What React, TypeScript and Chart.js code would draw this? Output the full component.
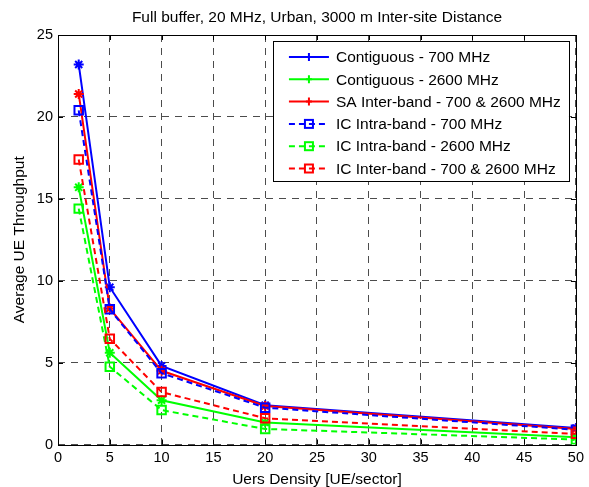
import React, { useEffect, useRef } from "react";
import { Chart, registerables } from "chart.js";

Chart.register(...registerables);

const TITLE = "Full buffer, 20 MHz, Urban, 3000 m Inter-site Distance";
const X_TITLE = "Uers Density [UE/sector]";
const Y_TITLE = "Average UE Throughput";

const users = [2, 5, 10, 20, 50];
const contiguous700 = [23.2, 9.6, 4.8, 2.4, 1.0];
const contiguous2600 = [15.7, 5.6, 2.7, 1.35, 0.45];
const saInter = [21.4, 8.3, 4.5, 2.35, 0.95];
const icIntra700 = [20.4, 8.25, 4.35, 2.25, 0.9];
const icIntra2600 = [14.4, 4.75, 2.1, 0.95, 0.3];
const icInter = [17.4, 6.45, 3.2, 1.6, 0.65];

const xTicks = [0, 5, 10, 15, 20, 25, 30, 35, 40, 45, 50];
const yTicks = [0, 5, 10, 15, 20, 25];

const seriesNames = [
  "Contiguous - 700 MHz",
  "Contiguous - 2600 MHz",
  "SA Inter-band - 700 & 2600 MHz",
  "IC Intra-band - 700 MHz",
  "IC Intra-band - 2600 MHz",
  "IC Inter-band - 700 & 2600 MHz",
];
const seriesValues = [contiguous700, contiguous2600, saInter, icIntra700, icIntra2600, icInter];
const seriesColors = ["#0000ff", "#00ff00", "#ff0000", "#0000ff", "#00ff00", "#ff0000"];
const seriesDashed = [false, false, false, true, true, true];

const FONT = "Arial, 'Liberation Sans', Helvetica, sans-serif";

export default function App() {
  const ref = useRef<HTMLCanvasElement | null>(null);

  useEffect(() => {
    const canvas = ref.current;
    if (!canvas) return;

    const datasets = seriesNames.map((name, i) => ({
      label: name,
      data: users.map((u, j) => ({ x: u, y: seriesValues[i][j] })),
      borderColor: seriesColors[i],
      backgroundColor: seriesColors[i],
      borderWidth: 2,
      borderDash: seriesDashed[i] ? [6, 4] : [],
      pointStyle: seriesDashed[i] ? "rect" : "star",
      pointRadius: seriesDashed[i] ? 6 : 5,
      pointBorderWidth: 2,
      pointBackgroundColor: seriesDashed[i] ? "rgba(0,0,0,0)" : seriesColors[i],
      pointBorderColor: seriesColors[i],
      fill: false,
      tension: 0,
      order: 10 - i,
    }));

    const frame = {
      id: "matlabFrame",
      afterDraw(chart: any) {
        const { ctx, chartArea } = chart;
        const xs = chart.scales.x;
        const ys = chart.scales.y;
        const { left, right, top, bottom } = chartArea;
        ctx.save();
        ctx.strokeStyle = "#000";
        ctx.lineWidth = 1;
        ctx.setLineDash([]);
        ctx.strokeRect(Math.round(left) + 0.5, Math.round(top) + 0.5, Math.round(right - left), Math.round(bottom - top));
        const tl = 5;
        ctx.beginPath();
        xTicks.forEach((v) => {
          const px = Math.round(xs.getPixelForValue(v)) + 0.5;
          ctx.moveTo(px, bottom);
          ctx.lineTo(px, bottom - tl);
          ctx.moveTo(px, top);
          ctx.lineTo(px, top + tl);
        });
        yTicks.forEach((v) => {
          const py = Math.round(ys.getPixelForValue(v)) + 0.5;
          ctx.moveTo(left, py);
          ctx.lineTo(left + tl, py);
          ctx.moveTo(right, py);
          ctx.lineTo(right - tl, py);
        });
        ctx.stroke();

        ctx.fillStyle = "#000";
        ctx.font = `15.5px ${FONT}`;
        ctx.textAlign = "center";
        ctx.textBaseline = "alphabetic";
        ctx.fillText(TITLE, (left + right) / 2, 22);
        ctx.fillText(X_TITLE, (left + right) / 2, 484);
        ctx.save();
        ctx.translate(24, (top + bottom) / 2);
        ctx.rotate(-Math.PI / 2);
        ctx.fillText(Y_TITLE, 0, 0);
        ctx.restore();

        const lw = 296;
        const lh = 140;
        const lx = right - 7 - lw;
        const ly = top + 6;
        ctx.fillStyle = "#fff";
        ctx.fillRect(lx, ly, lw, lh);
        ctx.strokeStyle = "#000";
        ctx.lineWidth = 1;
        ctx.strokeRect(Math.round(lx) + 0.5, Math.round(ly) + 0.5, lw, lh);
        seriesNames.forEach((name, i) => {
          const cy = ly + 16 + i * 22.3;
          const c = seriesColors[i];
          ctx.strokeStyle = c;
          ctx.lineWidth = 2;
          ctx.setLineDash(seriesDashed[i] ? [6, 4] : []);
          ctx.beginPath();
          ctx.moveTo(lx + 16, cy);
          ctx.lineTo(lx + 56, cy);
          ctx.stroke();
          ctx.setLineDash([]);
          if (seriesDashed[i]) {
            ctx.strokeRect(lx + 36 - 4, cy - 4, 8, 8);
          } else {
            ctx.beginPath();
            ctx.moveTo(lx + 36, cy - 4);
            ctx.lineTo(lx + 36, cy + 4);
            ctx.moveTo(lx + 33, cy);
            ctx.lineTo(lx + 39, cy);
            ctx.stroke();
          }
          ctx.fillStyle = "#000";
          ctx.font = `15.5px ${FONT}`;
          ctx.textAlign = "left";
          ctx.textBaseline = "middle";
          ctx.fillText(name, lx + 63, cy + 1);
        });
        ctx.restore();
      },
    };

    const chart = new Chart(canvas, {
      type: "line",
      data: { datasets: datasets as any },
      options: {
        animation: false,
        responsive: false,
        devicePixelRatio: 1,
        layout: { padding: { left: 0, right: 7, top: 35, bottom: 0 } },
        plugins: { legend: { display: false }, tooltip: { enabled: false }, title: { display: false } },
        scales: {
          x: {
            type: "linear",
            min: 0,
            max: 50,
            afterBuildTicks: (s: any) => {
              s.ticks = xTicks.map((v) => ({ value: v }));
            },
            afterFit: (s: any) => {
              s.height = 42.5;
            },
            ticks: { color: "#000", font: { size: 14.5, family: FONT }, padding: 5, maxRotation: 0, autoSkip: false },
            grid: { color: "rgba(0,0,0,0.7)", lineWidth: 1, drawTicks: false },
            border: { display: false, dash: [7, 6] },
          },
          y: {
            type: "linear",
            min: 0,
            max: 25,
            afterBuildTicks: (s: any) => {
              s.ticks = yTicks.map((v) => ({ value: v }));
            },
            afterFit: (s: any) => {
              s.width = 58;
            },
            ticks: { color: "#000", font: { size: 14.5, family: FONT }, padding: 5 },
            grid: { color: "rgba(0,0,0,0.7)", lineWidth: 1, drawTicks: false },
            border: { display: false, dash: [7, 6] },
          },
        },
      },
      plugins: [frame],
    });

    return () => chart.destroy();
  }, []);

  return (
    <div style={{ position: "absolute", left: 0, top: 0, width: 589, height: 487, background: "#fff" }}>
      <canvas ref={ref} width={589} height={487} style={{ display: "block", width: 589, height: 487 }} />
    </div>
  );
}
